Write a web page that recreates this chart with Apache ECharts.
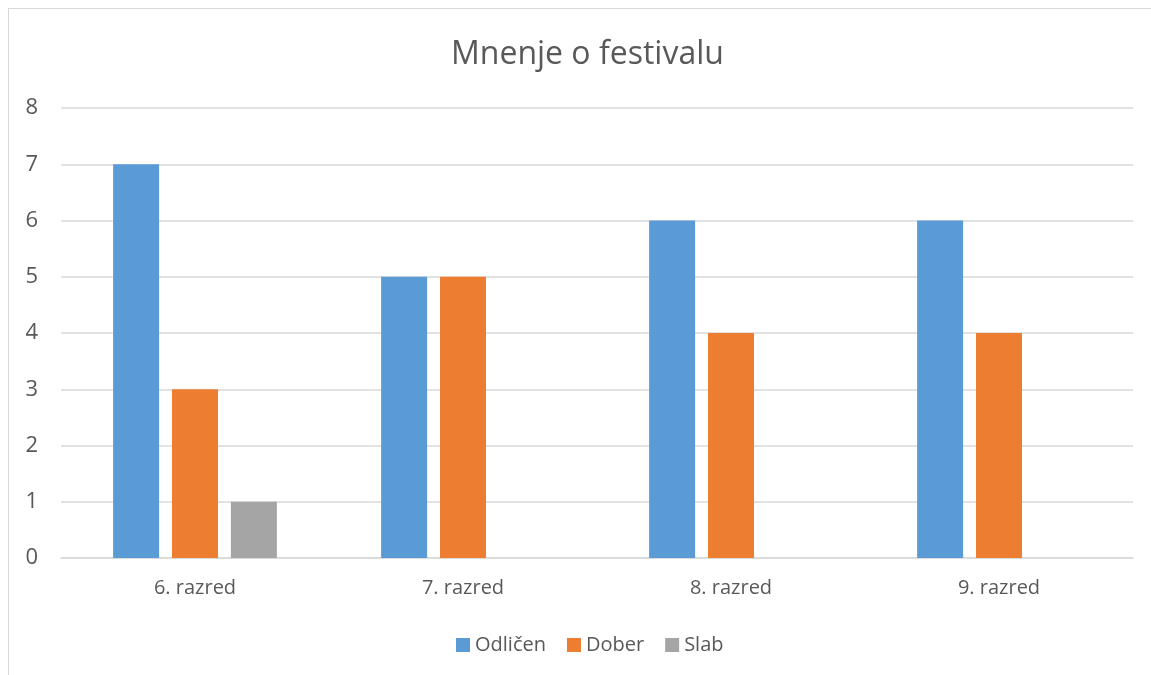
<!DOCTYPE html>
<html>
<head>
<meta charset="utf-8">
<script src="https://cdn.jsdelivr.net/npm/echarts@6/dist/echarts.min.js"></script>
<style>
  html,body{margin:0;padding:0;background:#fff}
  #frame{position:absolute;left:8px;top:8px;width:1200px;height:700px;border-left:1px solid #d9d9d9;border-top:1px solid #d9d9d9}
  #chart{position:absolute;left:0;top:0;width:1151px;height:675px}
</style>
</head>
<body>
<div id="frame"></div>
<div id="chart"></div>
<script>
const categories = ['6. razred','7. razred','8. razred','9. razred']
const odlicen = [7,5,6,6]
const dober = [3,5,4,4]
const slab = [1,0,0,0]
const yTicks = [0,1,2,3,4,5,6,7,8]

const font = '"Open Sans", "Noto Sans", sans-serif'
const chart = echarts.init(document.getElementById('chart'))

function bar(name, data, color){
  return {name, type:'bar', data, barWidth:46, barGap:'28%', itemStyle:{color}}
}

chart.setOption({
  animation:false,
  title:{text:'Mnenje o festivalu', left:446, top:34,
    textStyle:{fontFamily:font, fontSize:32, fontWeight:'normal', color:'#595959'}},
  legend:{top:630, left:451, itemWidth:14, itemHeight:14, itemGap:21, icon:'rect',
    textStyle:{fontFamily:font, fontSize:20, color:'#595959'}},
  grid:{left:61, right:18, top:108, bottom:117, containLabel:false},
  xAxis:{type:'category', data:categories,
    axisLine:{lineStyle:{color:'#d9d9d9', width:1.5}}, axisTick:{show:false},
    axisLabel:{fontFamily:font, fontSize:20, color:'#595959', margin:20}},
  yAxis:{type:'value', min:yTicks[0], max:yTicks[yTicks.length-1], interval:1,
    axisLine:{show:false}, axisTick:{show:false},
    splitLine:{lineStyle:{color:'#d9d9d9', width:1.5}},
    axisLabel:{fontFamily:font, fontSize:22, color:'#595959', margin:23,
      formatter:v=>String(v)}},
  series:[
    bar('Odličen', odlicen, '#5b9bd5'),
    bar('Dober', dober, '#ed7d31'),
    bar('Slab', slab.map(v=>v===0?null:v), '#a5a5a5')
  ]
})
</script>
</body>
</html>
